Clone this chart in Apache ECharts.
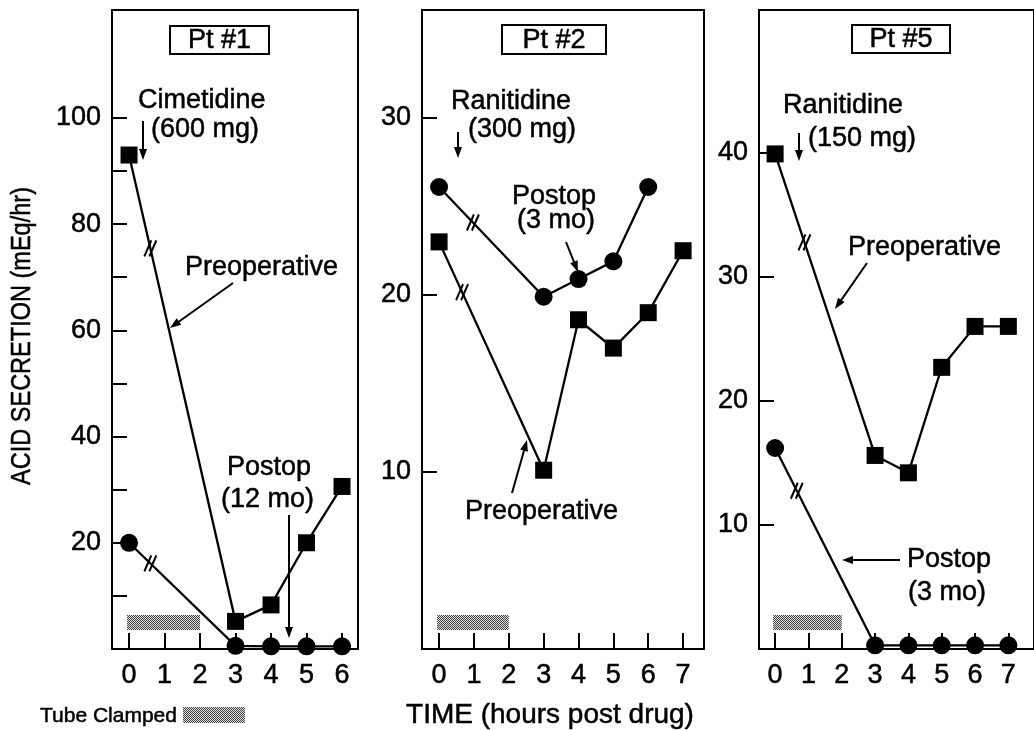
<!DOCTYPE html>
<html><head><meta charset="utf-8">
<script src="https://cdn.jsdelivr.net/npm/echarts@6/dist/echarts.min.js"></script>
<style>html,body{margin:0;padding:0;background:#fff}#c{width:1034px;height:730px}</style>
</head><body><div id="c"></div>
<script>
// ---- data ----
const p1Times = [0, 3, 4, 5, 6];
const p1Preop = [93, 5.2, 8.3, 20, 30.6];
const p1Postop = [20, 0.6, 0.5, 0.5, 0.5];
const p2PreTimes = [0, 3, 4, 5, 6, 7];
const p2Preop = [23, 10.1, 18.6, 17, 19, 22.5];
const p2PostTimes = [0, 3, 4, 5, 6];
const p2Postop = [26.1, 19.9, 20.9, 21.9, 26.1];
const p3Times = [0, 3, 4, 5, 6, 7];
const p3Preop = [39.9, 15.6, 14.2, 22.7, 26, 26];
const p3Postop = [16.2, 0.3, 0.3, 0.3, 0.3, 0.3];
const xTicks1 = [0, 1, 2, 3, 4, 5, 6];
const xTicks23 = [0, 1, 2, 3, 4, 5, 6, 7];
const y1Ticks = [10, 20, 30, 40, 50, 60, 70, 80, 90, 100];
const y1Labels = [20, 40, 60, 80, 100];
const y2Ticks = [10, 20, 30];
const y3Ticks = [10, 20, 30, 40];
const clampedHours = [0, 2];
const breakAt = [0.6, 0.6, 0.66, 0.97, 0.88, 0.65]; // hour where the "//" break mark sits on the first segment

// ---- helpers ----
const FONT = '"Liberation Sans", Arial, Helvetica, sans-serif';
const zip = (xs, ys) => xs.map((x, i) => [x, ys[i]]);
function breakCoord(xs, ys, bx) {
  const t = (bx - xs[0]) / (xs[1] - xs[0]);
  return [bx, ys[0] + t * (ys[1] - ys[0])];
}
const pc = document.createElement('canvas');
pc.width = 2; pc.height = 2;
const g = pc.getContext('2d');
g.fillStyle = '#dcdcdc'; g.fillRect(0, 0, 2, 2);
g.fillStyle = '#444'; g.fillRect(0, 0, 1, 1); g.fillRect(1, 1, 1, 1);
const pattern = { image: pc, repeat: 'repeat' };

const BREAK_SYMBOL = 'path://M0,16 L7,0 M5,16 L12,0';

function lineSeries(idx, xs, ys, sym, size, bx) {
  return {
    type: 'line', xAxisIndex: idx, yAxisIndex: idx,
    data: zip(xs, ys), symbol: sym, symbolSize: size, showAllSymbol: true,
    lineStyle: { color: '#000', width: 2.3 }, itemStyle: { color: '#000' },
    z: 3,
    markPoint: {
      symbol: BREAK_SYMBOL, symbolSize: [12, 16], silent: true,
      itemStyle: { color: 'rgba(0,0,0,0)', borderColor: '#000', borderWidth: 2.2 },
      label: { show: false },
      data: [{ coord: breakCoord(xs, ys, bx) }]
    }
  };
}
function clampSeries(idx) {
  return {
    type: 'custom', xAxisIndex: idx, yAxisIndex: idx, silent: true, z: 1,
    data: [clampedHours],
    renderItem: (params, api) => {
      const a = api.coord([api.value(0), 0]);
      const b = api.coord([api.value(1), 0]);
      return { type: 'rect', shape: { x: a[0] - 2, y: a[1] - 34, width: b[0] - a[0] + 2, height: 15 }, style: { fill: pattern } };
    }
  };
}
const LBL = { color: '#000', fontSize: 27, fontFamily: FONT, textBorderColor: '#000', textBorderWidth: 0.5 };
function xAxis(idx, min, max, ticks) {
  return {
    type: 'value', gridIndex: idx, min: min, max: max,
    axisLine: { onZero: false, lineStyle: { color: '#000', width: 2 } },
    axisTick: { inside: true, length: 16, lineStyle: { color: '#000', width: 2 }, customValues: ticks },
    axisLabel: Object.assign({ margin: 13, customValues: ticks }, LBL),
    splitLine: { show: false }
  };
}
function yAxis(idx, max, ticks, labels) {
  return {
    type: 'value', gridIndex: idx, min: 0, max: max,
    axisLine: { onZero: false, lineStyle: { color: '#000', width: 2 } },
    axisTick: { inside: true, length: 15, lineStyle: { color: '#000', width: 2 }, customValues: ticks },
    axisLabel: Object.assign({ margin: 11, customValues: labels }, LBL),
    splitLine: { show: false }
  };
}
function txt(s, x, y, size, align) {
  return { type: 'text', silent: true, z: 10, style: { text: s, x: x, y: y, fill: '#000', stroke: '#000', lineWidth: 0.5, font: 'normal ' + (size || 27) + 'px ' + FONT, textAlign: align || 'left', textVerticalAlign: 'middle' } };
}
function arrow(x1, y1, x2, y2) {
  const L = Math.hypot(x2 - x1, y2 - y1), dx = (x2 - x1) / L, dy = (y2 - y1) / L;
  const hl = 11, hw = 4;
  const bx = x2 - dx * hl, by = y2 - dy * hl;
  return [
    { type: 'line', silent: true, z: 10, shape: { x1: x1, y1: y1, x2: bx + dx * 2, y2: by + dy * 2 }, style: { stroke: '#000', lineWidth: 2 } },
    { type: 'polygon', silent: true, z: 10, shape: { points: [[x2, y2], [bx - dy * hw, by + dx * hw], [bx + dy * hw, by - dx * hw]] }, style: { fill: '#000' } }
  ];
}
function box(label, x, y, w, h) {
  return [
    { type: 'rect', silent: true, z: 10, shape: { x: x, y: y, width: w, height: h }, style: { fill: '#fff', stroke: '#000', lineWidth: 2 } },
    txt(label, x + w / 2, y + h / 2 + 1, 27, 'center')
  ];
}

const graphics = [].concat(
  box('Pt #1', 170, 26, 99, 28),
  box('Pt #2', 502, 25, 104, 29),
  box('Pt #5', 852, 25, 98, 28),
  [txt('Cimetidine', 138, 101), txt('(600 mg)', 151, 130)], arrow(143, 121, 143, 160),
  [txt('Preoperative', 185, 268)], arrow(233, 283, 170, 328),
  [txt('Postop', 227, 468), txt('(12 mo)', 221, 500)], arrow(289, 515, 289, 638),
  [txt('Ranitidine', 451, 102), txt('(300 mg)', 468, 130)], arrow(458, 132, 458, 158),
  [txt('Postop', 512, 197), txt('(3 mo)', 517, 221)], arrow(566, 242, 578, 272),
  [txt('Preoperative', 465, 512)], arrow(512, 493, 527, 440),
  [txt('Ranitidine', 783, 106), txt('(150 mg)', 808, 139)], arrow(799, 133, 799, 161),
  [txt('Preoperative', 848, 248)], arrow(867, 263, 835, 309),
  [txt('Postop', 907, 560), txt('(3 mo)', 908, 593)], arrow(900, 560, 842, 560),
  [txt('TIME (hours post drug)', 550, 715, 28, 'center')],
  [txt('Tube Clamped', 40, 716, 21)],
  [{ type: 'rect', silent: true, shape: { x: 183, y: 707, width: 62, height: 16 }, style: { fill: pattern } }],
  [{ type: 'text', silent: true, x: 22, y: 336, rotation: Math.PI / 2, scaleX: 0.84,
     style: { text: 'ACID SECRETION (mEq/hr)', x: 0, y: 0, fill: '#000', stroke: '#000', lineWidth: 0.5, font: 'normal 28px ' + FONT, textAlign: 'center', textVerticalAlign: 'middle' } }]
);

const chart = echarts.init(document.getElementById('c'), null, { renderer: 'canvas' });
chart.setOption({
  animation: false,
  backgroundColor: '#fff',
  grid: [
    { left: 112, top: 10, width: 246, height: 639, show: true, borderColor: '#000', borderWidth: 2, containLabel: false },
    { left: 422, top: 10, width: 282, height: 639, show: true, borderColor: '#000', borderWidth: 2, containLabel: false },
    { left: 759, top: 10, width: 290, height: 639, show: true, borderColor: '#000', borderWidth: 2, containLabel: false }
  ],
  xAxis: [
    xAxis(0, -0.48, 6.45, xTicks1),
    xAxis(1, -0.49, 7.6, xTicks23),
    xAxis(2, -0.484, 7.77, xTicks23)
  ],
  yAxis: [
    yAxis(0, 120.3, y1Ticks, y1Labels),
    yAxis(1, 36.1, y2Ticks, y2Ticks),
    yAxis(2, 51.5, y3Ticks, y3Ticks)
  ],
  series: [
    clampSeries(0), clampSeries(1), clampSeries(2),
    lineSeries(0, p1Times, p1Preop, 'rect', 17, breakAt[0]),
    lineSeries(0, p1Times, p1Postop, 'circle', 18, breakAt[1]),
    lineSeries(1, p2PreTimes, p2Preop, 'rect', 17, breakAt[2]),
    lineSeries(1, p2PostTimes, p2Postop, 'circle', 18, breakAt[3]),
    lineSeries(2, p3Times, p3Preop, 'rect', 17, breakAt[4]),
    lineSeries(2, p3Times, p3Postop, 'circle', 18, breakAt[5])
  ],
  graphic: { elements: graphics }
});
</script></body></html>
